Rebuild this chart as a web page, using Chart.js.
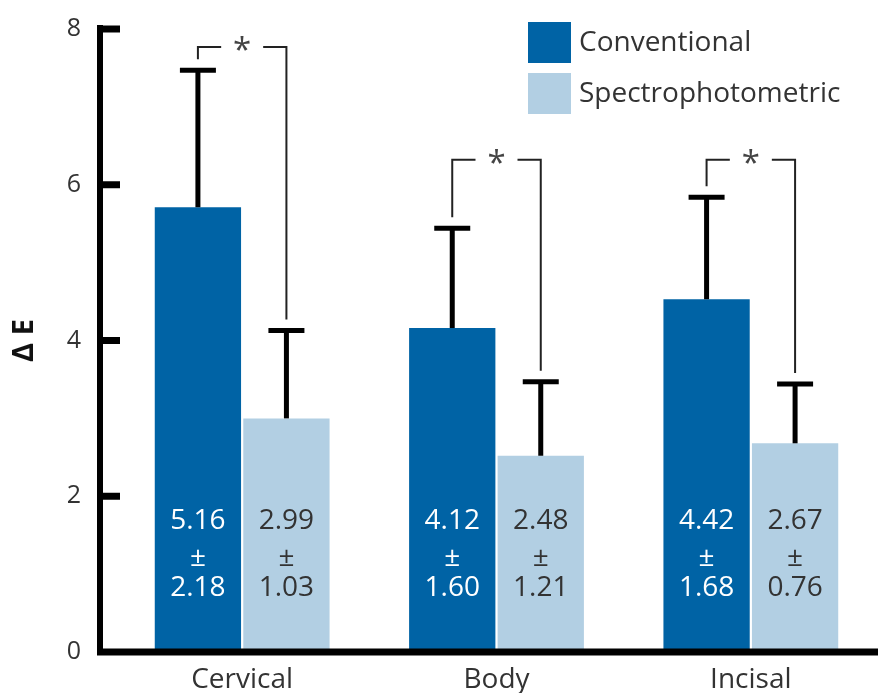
<!DOCTYPE html>
<html>
<head>
<meta charset="utf-8">
<script src="https://cdn.jsdelivr.net/npm/chart.js@4"></script>
<style>
  html, body { margin: 0; padding: 0; background: #fff; }
  #wrap { width: 878px; height: 693px; position: relative; }
</style>
</head>
<body>
<div id="wrap"><canvas id="chart"></canvas></div>
<script>
// data
const categories   = ["Cervical", "Body", "Incisal"];
const conventional = [5.71, 4.16, 4.53];     // bar heights as drawn
const spectro      = [3.00, 2.52, 2.68];
const convErrTop   = [7.47, 5.44, 5.84];     // top of error bars
const spectroErrTop = [4.13, 3.47, 3.44];
const convMean  = ["5.16", "4.12", "4.42"];  // printed inside bars
const convSD    = ["2.18", "1.60", "1.68"];
const specMean  = ["2.99", "2.48", "2.67"];
const specSD    = ["1.03", "1.21", "0.76"];
const bracketLevel = [7.77, 6.32, 6.32];    // significance brackets
const yTicks = [0, 2, 4, 6, 8];

const COLORS = {
  dark:  "#0063a5",
  light: "#b2cfe3",
  ink:   "#333333",
};
const FONT = "'Open Sans', sans-serif";

const overlay = {
  id: "overlay",
  afterDatasetsDraw(chart) {
    const ctx = chart.ctx;
    const y = chart.scales.y;
    const area = chart.chartArea;
    const m0 = chart.getDatasetMeta(0), m1 = chart.getDatasetMeta(1);
    ctx.save();

    // axes
    ctx.strokeStyle = "#000";
    ctx.lineCap = "butt";
    ctx.lineWidth = 6;
    const ax = 100;
    ctx.beginPath();
    ctx.moveTo(ax, y.getPixelForValue(8) - 4);
    ctx.lineTo(ax, area.bottom + 3);
    ctx.stroke();
    ctx.lineWidth = 7;
    ctx.beginPath();
    ctx.moveTo(ax - 3, area.bottom);
    ctx.lineTo(area.right, area.bottom);
    ctx.stroke();
    yTicks.forEach(v => {
      if (v === 0) return;
      const py = y.getPixelForValue(v);
      ctx.beginPath();
      ctx.moveTo(ax, py);
      ctx.lineTo(120, py);
      ctx.stroke();
    });

    // error bars
    const errs = [convErrTop, spectroErrTop];
    [m0, m1].forEach((meta, d) => {
      meta.data.forEach((bar, i) => {
        const top = y.getPixelForValue(errs[d][i]);
        ctx.lineWidth = 5;
        ctx.beginPath();
        ctx.moveTo(bar.x, bar.y);
        ctx.lineTo(bar.x, top);
        ctx.stroke();
        ctx.beginPath();
        ctx.moveTo(bar.x - 18, top);
        ctx.lineTo(bar.x + 18, top);
        ctx.stroke();
      });
    });

    // brackets with asterisk
    ctx.font = "33px " + FONT;
    const mt = ctx.measureText("*");
    m0.data.forEach((bar, i) => {
      const lx = bar.x, rx = m1.data[i].x;
      const by = y.getPixelForValue(bracketLevel[i]);
      const mid = (lx + rx) / 2;
      ctx.strokeStyle = "#222";
      ctx.lineWidth = 2;
      ctx.beginPath();
      ctx.moveTo(lx, y.getPixelForValue(convErrTop[i]) - 11);
      ctx.lineTo(lx, by);
      ctx.lineTo(mid - 21, by);
      ctx.moveTo(mid + 21, by);
      ctx.lineTo(rx, by);
      ctx.lineTo(rx, y.getPixelForValue(spectroErrTop[i]) - 11);
      ctx.stroke();
      ctx.fillStyle = "#444";
      ctx.textAlign = "center";
      ctx.textBaseline = "alphabetic";
      const shift = (mt.actualBoundingBoxAscent - mt.actualBoundingBoxDescent) / 2;
      ctx.fillText("*", mid, by - 3 + shift);
    });

    // values inside bars
    ctx.font = "28px " + FONT;
    ctx.textAlign = "center";
    ctx.textBaseline = "middle";
    const rows = [
      [convMean, specMean, 521],
      [null, null, 558],
      [convSD, specSD, 588],
    ];
    rows.forEach(([a, b, py]) => {
      m0.data.forEach((bar, i) => {
        ctx.fillStyle = "#fff";
        ctx.fillText(a ? a[i] : "±", bar.x, py);
        ctx.fillStyle = COLORS.ink;
        ctx.fillText(b ? b[i] : "±", m1.data[i].x, py);
      });
    });

    // legend
    chart.data.datasets.forEach((ds, d) => {
      const top = 22 + d * 51;
      ctx.fillStyle = ds.backgroundColor;
      ctx.fillRect(528, top, 43, 41);
      ctx.fillStyle = COLORS.ink;
      ctx.textAlign = "left";
      ctx.fillText(ds.label, 579, top + 21);
    });
    ctx.restore();
  }
};

new Chart(document.getElementById("chart"), {
  type: "bar",
  data: {
    labels: categories,
    datasets: [
      { label: "Conventional", data: conventional, backgroundColor: COLORS.dark,
        borderWidth: 0, categoryPercentage: 0.696, barPercentage: 0.975 },
      { label: "Spectrophotometric", data: spectro, backgroundColor: COLORS.light,
        borderWidth: 0, categoryPercentage: 0.696, barPercentage: 0.975 }
    ]
  },
  options: {
    responsive: true,
    maintainAspectRatio: false,
    animation: false,
    devicePixelRatio: 1,
    layout: { padding: { top: 29, right: 0, left: 0, bottom: 0 } },
    plugins: { legend: { display: false }, tooltip: { enabled: false } },
    scales: {
      x: {
        grid: { display: false, drawTicks: false },
        border: { display: false },
        ticks: { color: COLORS.ink, font: { family: FONT, size: 28 }, padding: 11 },
        afterFit: s => { s.height = 41; s.paddingLeft = 0; s.paddingRight = 0; }
      },
      y: {
        min: 0, max: 8,
        afterBuildTicks: s => { s.ticks = yTicks.map(v => ({ value: v })); },
        grid: { display: false, drawTicks: false },
        border: { display: false },
        ticks: { color: COLORS.ink, font: { family: FONT, size: 25 }, padding: 34 },
        title: { display: true, text: "Δ E", color: "#111",
                 font: { family: FONT, size: 29, weight: "bold" }, padding: { top: 7, bottom: 0 } },
        afterFit: s => { s.width = 115; s.paddingTop = 0; s.paddingBottom = 0; }
      }
    }
  },
  plugins: [overlay]
});
</script>
</body>
</html>
